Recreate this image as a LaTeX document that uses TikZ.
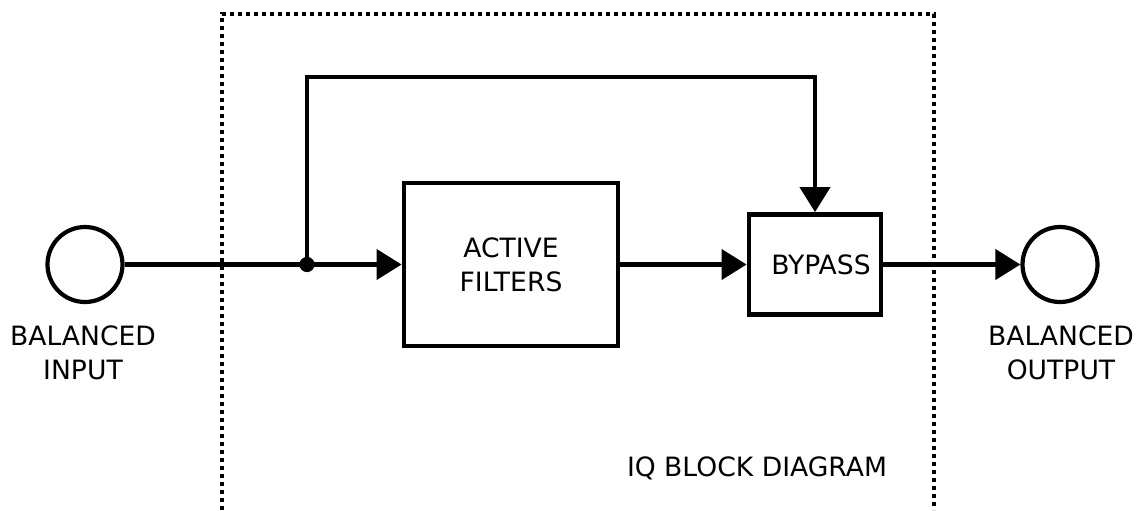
\documentclass[tikz,border=0pt]{standalone}
\usepackage{fontspec}
\setmainfont{DejaVu Sans}
\usetikzlibrary{arrows.meta}
\tikzset{
  block/.style={draw, line width=2.4pt, align=center, inner sep=0pt},
  port/.style={draw, circle, line width=2.1pt, minimum size=37.5pt, inner sep=0pt},
  sig/.style={line width=2.1pt, -{Triangle[length=12.5pt,width=15pt]}},
  lbl/.style={align=center, inner sep=0pt},
}
\begin{document}
\begin{tikzpicture}[x=0.5pt,y=-0.5pt,font=\fontsize{13.3}{17}\selectfont]
            \useasboundingbox (0,0) rectangle (1138,510);
            % dotted outline
            \draw[line width=2pt, dash pattern=on 2pt off 2pt] (222,510) -- (222,14) -- (934,14) -- (934,510);
            \node[port] (in) at (85,264.5) {};
            \node[port] (out) at (1060,264.5) {};
            \node[block, minimum width=107pt, minimum height=81.5pt] (filt) at (511,264.5) {ACTIVE\\FILTERS};
            \node[block, minimum width=66pt, minimum height=50pt] (byp) at (815,264.5) {\hspace*{6pt}BYPASS};
            \coordinate (j) at (307,264.5);
            \coordinate (turn) at (307,77);
            \draw[sig] (in) -- (filt);
            \draw[sig] (j) -- (turn) -| (byp.north);
            \fill (j) circle (3.8pt);
            \draw[sig] (filt) -- (byp);
            \draw[sig] (byp) -- (out);
            % labels
            \node[lbl] (inlbl) at (83,353) {BALANCED\\INPUT};
            \node[lbl] (outlbl) at (1061,353) {BALANCED\\OUTPUT};
            \node[lbl] (title) at (757,468) {IQ BLOCK DIAGRAM};
        \end{tikzpicture}
\end{document}
